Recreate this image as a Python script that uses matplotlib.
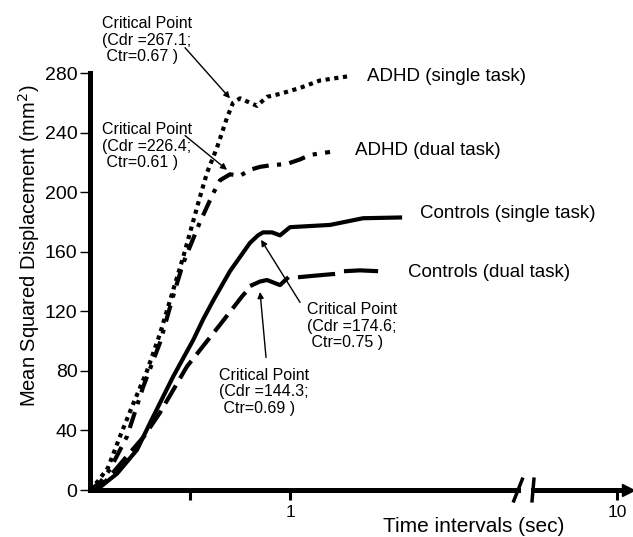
import numpy as np
import matplotlib.pyplot as plt

plt.rcParams['font.family'] = ['Liberation Sans', 'DejaVu Sans']

# Data (time in sec, MSD in mm^2)
adhd_single_t = [0, 0.04, 0.09, 0.15, 0.21, 0.285, 0.35, 0.415, 0.465, 0.55, 0.585, 0.635,
                 0.685, 0.715, 0.75, 0.8, 0.835, 0.885, 0.95, 1.05, 1.15, 1.25, 1.3]
adhd_single_y = [0, 6, 15, 36, 56, 80, 105, 134, 156, 197, 213, 230,
                 250, 260, 263, 260, 258, 264, 266, 270, 275, 277, 278]

adhd_dual_t = [0, 0.05, 0.1, 0.185, 0.265, 0.35, 0.415, 0.465, 0.55, 0.615, 0.65, 0.7,
               0.75, 0.8, 0.85, 0.9, 0.985, 1.05, 1.1, 1.15, 1.2]
adhd_dual_y = [0, 5, 14, 36, 69, 99, 130, 152, 180, 199, 208, 212,
               211, 215, 217, 218, 219, 222, 225, 226, 227]

ctrl_single_t = [0, 0.06, 0.135, 0.235, 0.3, 0.415, 0.517, 0.567, 0.617, 0.7, 0.8, 0.84,
                 0.865, 0.91, 0.95, 1.0, 1.2, 1.365, 1.55]
ctrl_single_y = [0, 3, 11, 27, 45, 76, 101, 115, 127.5, 147, 166, 171,
                 173, 173, 171, 176.5, 178, 182.5, 183]

# rising part (dashed) and plateau (short solid pieces, nan = gap)
ctrl_dual_t = [0, 0.06, 0.18, 0.27, 0.35, 0.485, 0.65, 0.76, 0.81]
ctrl_dual_y = [0, 3, 22, 36, 52, 83, 111, 130, 137.6]
ctrl_dual_plateau_t = [0.81, 0.85, 0.885, 0.95, 0.985, np.nan, 1.05, 1.13, 1.215, np.nan, 1.28, 1.35, 1.43]
ctrl_dual_plateau_y = [137.6, 140, 141, 137.6, 142, np.nan, 143, 144, 145, np.nan, 147, 147.5, 147]

series_labels = ['ADHD (single task)', 'ADHD (dual task)',
                 'Controls (single task)', 'Controls (dual task)']

critical_texts = ['Critical Point\n(Cdr =267.1;\n Ctr=0.67 )',
                  'Critical Point\n(Cdr =226.4;\n Ctr=0.61 )',
                  'Critical Point\n(Cdr =174.6;\n Ctr=0.75 )',
                  'Critical Point\n(Cdr =144.3;\n Ctr=0.69 )']

yticks = [0, 40, 80, 120, 160, 200, 240, 280]

fig = plt.figure(figsize=(6.33, 5.37), dpi=100)
ax1 = fig.add_axes([0.1422, 0.0875, 0.6762, 0.7765])
ax2 = fig.add_axes([0.842, 0.0875, 0.150, 0.7765])
ax2.patch.set_visible(False)

lw = 3
ax1.plot(adhd_single_t, adhd_single_y, color='black', lw=lw, linestyle=(0, (1, 1.1)))
ax1.plot(adhd_dual_t, adhd_dual_y, color='black', lw=lw, linestyle=(0, (4, 2, 1, 2)))
ax1.plot(ctrl_single_t, ctrl_single_y, color='black', lw=lw)
ax1.plot(ctrl_dual_t, ctrl_dual_y, color='black', lw=lw, linestyle=(0, (5, 2)))
ax1.plot(ctrl_dual_plateau_t, ctrl_dual_plateau_y, color='black', lw=lw)

ax1.set_xlim(0, 2.14)
ax1.set_ylim(0, 280)
ax2.set_xlim(9.4, 10.079)
ax2.set_ylim(0, 280)

for ax in (ax1, ax2):
    ax.spines['top'].set_visible(False)
    ax.spines['right'].set_visible(False)
    ax.spines['bottom'].set_linewidth(3.6)

ax1.spines['left'].set_linewidth(3.6)
ax2.spines['left'].set_visible(False)
ax2.set_yticks([])

ax1.set_yticks(yticks)
ax1.tick_params(axis='y', length=7, width=1, labelsize=14, pad=2)
ax1.set_xticks([0.5, 1.0])
ax1.set_xticklabels(['', '1'])
ax1.tick_params(axis='x', length=7, width=2.2, labelsize=12.5, pad=4)
ax2.set_xticks([10])
ax2.set_xticklabels(['10'])
ax2.tick_params(axis='x', length=7, width=2.2, labelsize=12.5, pad=4)

# axis break marks
for ax, xb in ((ax1, 1.0), (ax2, 0.0)):
    ax.plot([xb - 0.01, xb + 0.01], [-0.026, 0.026], transform=ax.transAxes,
            color='black', lw=2.5, clip_on=False)
# arrow head at the end of the x axis
ax2.plot(1.0, 0.0, marker='>', markersize=9, color='black',
         transform=ax2.transAxes, clip_on=False)

# series labels
label_pos = [(1.385, 278), (1.325, 228), (1.65, 186), (1.59, 146)]
for txt, (x, y) in zip(series_labels, label_pos):
    ax1.text(x, y, txt, fontsize=13.5, ha='left', va='center', clip_on=False)

# critical point annotations
text_pos = [(0.285, 302), (0.285, 231), (1.31, 110), (0.87, 66)]
arrow_from = [(0.475, 297), (0.475, 238), (1.05, 126), (0.88, 89)]
arrow_to = [(0.70, 263), (0.685, 215), (0.855, 168), (0.85, 133)]
for txt, tp, af, at in zip(critical_texts, text_pos, arrow_from, arrow_to):
    ax1.text(tp[0], tp[1], txt, fontsize=11.5, ha='center', va='center',
             linespacing=1.12, multialignment='left')
    ax1.annotate('', xy=at, xytext=af,
                 arrowprops=dict(arrowstyle='-|>', color='black', lw=1,
                                 mutation_scale=9, shrinkA=0, shrinkB=0))

fig.text(29 / 633, 1 - 246 / 537, 'Mean Squared Displacement (mm$^2$)',
         rotation=90, fontsize=14.5, ha='center', va='center')
fig.text(474 / 633, 1 - 527 / 537, 'Time intervals (sec)', fontsize=15,
         ha='center', va='center')

fig.savefig('out.png', dpi=100)
